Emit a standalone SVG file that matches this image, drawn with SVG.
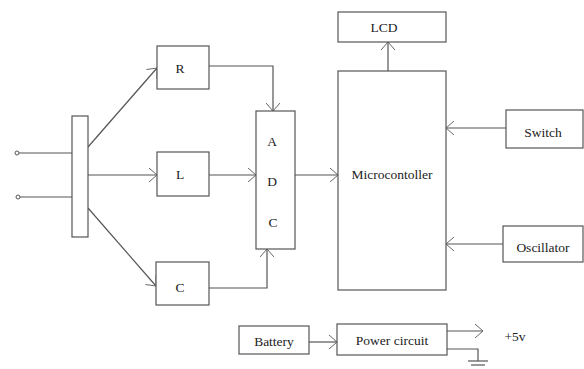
<svg xmlns="http://www.w3.org/2000/svg" width="584" height="369" viewBox="0 0 584 369">
<style>
.box{fill:#fff;stroke:#555;stroke-width:1.2}
.ln{fill:none;stroke:#555;stroke-width:1.2}
.t{font-family:"Liberation Serif","DejaVu Serif",serif;font-size:13.5px;fill:#222;text-anchor:middle;dominant-baseline:central}
</style>
<defs>
<marker id="ah" viewBox="0 0 10 14" refX="9" refY="7" markerWidth="10" markerHeight="14" markerUnits="userSpaceOnUse" orient="auto">
<path d="M1,0 L9,7 L1,14" fill="none" stroke="#666" stroke-width="1"/>
</marker>
</defs>
<rect width="584" height="369" fill="#fff"/>
<g id="connectors">
<line class="ln" x1="19" y1="153" x2="72" y2="153"/>
<line class="ln" x1="19" y1="197" x2="72" y2="197"/>
<line class="ln" x1="88" y1="147" x2="157" y2="68" marker-end="url(#ah)"/>
<line class="ln" x1="88" y1="175" x2="157" y2="175" marker-end="url(#ah)"/>
<line class="ln" x1="88" y1="208" x2="156" y2="286" marker-end="url(#ah)"/>
<polyline class="ln" points="209,66 273,66 273,111" marker-end="url(#ah)"/>
<line class="ln" x1="209" y1="175" x2="256" y2="175" marker-end="url(#ah)"/>
<polyline class="ln" points="209,288 267,288 267,249" marker-end="url(#ah)"/>
<line class="ln" x1="295" y1="175" x2="338" y2="175" marker-end="url(#ah)"/>
<line class="ln" x1="388" y1="71" x2="388" y2="42" marker-end="url(#ah)"/>
<line class="ln" x1="506" y1="128" x2="446" y2="128" marker-end="url(#ah)"/>
<line class="ln" x1="503" y1="244" x2="446" y2="244" marker-end="url(#ah)"/>
<line class="ln" x1="309" y1="342" x2="337" y2="342" marker-end="url(#ah)"/>
<line class="ln" x1="447" y1="331" x2="483" y2="331" marker-end="url(#ah)"/>
<polyline class="ln" points="447,349 478,349 478,361"/>
<line class="ln" x1="468" y1="361" x2="488" y2="361"/>
<line class="ln" x1="471" y1="365" x2="485" y2="365"/>
</g>
<g id="inputs">
<circle cx="17" cy="153" r="2" fill="#fff" stroke="#555" stroke-width="1"/>
<circle cx="18" cy="197" r="2" fill="#fff" stroke="#555" stroke-width="1"/>
</g>
<g id="bar"><rect class="box" x="72" y="116" width="16" height="121"/></g>
<g id="R"><rect class="box" x="157" y="46" width="52" height="43"/><text class="t" x="180" y="68">R</text></g>
<g id="L"><rect class="box" x="157" y="152" width="52" height="44"/><text class="t" x="180" y="174">L</text></g>
<g id="C"><rect class="box" x="156" y="262" width="53" height="43"/><text class="t" x="180" y="287">C</text></g>
<g id="ADC"><rect class="box" x="256" y="111" width="39" height="138"/>
<text class="t" x="272" y="141">A</text><text class="t" x="272" y="181">D</text><text class="t" x="273" y="222">C</text></g>
<g id="LCD"><rect class="box" x="338" y="12" width="108" height="30"/><text class="t" x="384" y="27">LCD</text></g>
<g id="micro"><rect class="box" x="338" y="71" width="108" height="219"/><text class="t" x="392" y="174">Microcontoller</text></g>
<g id="switch"><rect class="box" x="506" y="110" width="77" height="38"/><text class="t" x="543" y="132">Switch</text></g>
<g id="osc"><rect class="box" x="503" y="226" width="80" height="36"/><text class="t" x="543" y="247">Oscillator</text></g>
<g id="battery"><rect class="box" x="239" y="326" width="70" height="28"/><text class="t" x="274" y="341">Battery</text></g>
<g id="power"><rect class="box" x="337" y="324" width="110" height="31"/><text class="t" x="392" y="340">Power circuit</text></g>
<text class="t" x="515" y="336">+5v</text>
</svg>
